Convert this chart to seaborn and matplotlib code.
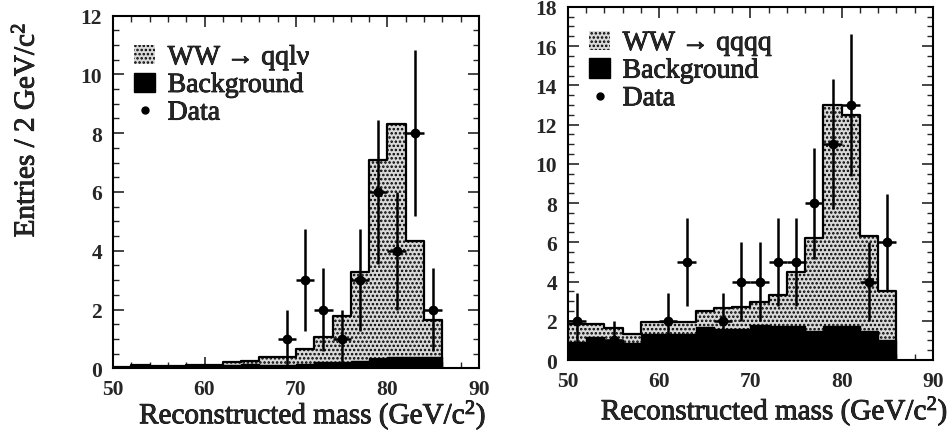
import numpy as np
import pandas as pd
import matplotlib
matplotlib.use("Agg")
import matplotlib.pyplot as plt
import matplotlib.patheffects as pe
import seaborn as sns
from matplotlib.patches import Patch
from matplotlib.lines import Line2D
from matplotlib.ticker import MultipleLocator

# ---------------- data ----------------
bin_edges = list(range(50, 88, 2))          # 50 ... 86, 2 GeV bins
bin_centers = [e + 1 for e in bin_edges[:-1]]

# left panel: WW -> qqlnu
left_total = [0.03, 0.1, 0.08, 0.08, 0.1, 0.12, 0.2, 0.25, 0.4, 0.4,
              0.66, 1.08, 1.79, 3.27, 7.1, 8.3, 4.34, 1.65]
left_bg = [0.03, 0.08, 0.06, 0.06, 0.08, 0.1, 0.12, 0.15, 0.12, 0.12,
           0.15, 0.2, 0.22, 0.25, 0.35, 0.38, 0.38, 0.38]
left_data_x = [69, 71, 73, 75, 77, 79, 81, 83, 85]
left_data_y = [1, 3, 2, 1, 3, 6, 4, 8, 2]

# right panel: WW -> qqqq
right_total = [1.85, 1.84, 1.62, 1.33, 1.92, 1.92, 1.92, 2.52, 2.64, 2.69,
               2.94, 3.32, 4.5, 6.2, 13.0, 12.5, 6.34, 3.54]
right_bg = [0.9, 1.15, 1.0, 0.85, 1.33, 1.35, 1.35, 1.7, 1.6, 1.6,
            1.8, 1.75, 1.72, 1.46, 1.72, 1.72, 1.5, 1.02]
right_data_x = [51, 55, 61, 63, 67, 69, 71, 73, 75, 77, 79, 81, 83, 85]
right_data_y = [2, 1, 2, 5, 2, 4, 4, 5, 5, 8, 11, 13, 4, 6]

left_legend = ["WW \u2192 qql\u03bd", "Background", "Data"]
right_legend = ["WW \u2192 qqqq", "Background", "Data"]
xlabel = "Reconstructed mass (GeV/c$^2$)"
ylabel = "Entries / 2 GeV/c$^2$"

# ---------------- style ----------------
sns.set_theme(style="ticks")
plt.rcParams["font.family"] = ["Liberation Serif", "DejaVu Serif"]
plt.rcParams["mathtext.default"] = "regular"
plt.rcParams["hatch.linewidth"] = 1.2

fig = plt.figure(figsize=(9.53, 4.35), dpi=100)
axL = fig.add_axes([0.1186, 0.151, 0.384, 0.811])
axR = fig.add_axes([0.596, 0.170, 0.383, 0.812])

STIP = "#d9d9d9"
HEAVY = [pe.withStroke(linewidth=0.6, foreground="black")]


def panel(ax, total, bg, dx, dy, ymax, labels, xlab_x, xlab_y, leg_y):
    df = pd.DataFrame({"m": bin_centers, "total": total, "bg": bg})
    sns.histplot(data=df, x="m", weights="total", bins=bin_edges,
                 element="step", fill=True, color=STIP, alpha=1,
                 edgecolor="black", linewidth=1.6, ax=ax)
    ax.collections[-1].set_hatch("....")
    sns.histplot(data=df, x="m", weights="bg", bins=bin_edges,
                 element="step", fill=True, color="black", alpha=1,
                 edgecolor="black", linewidth=1.0, ax=ax)
    dy = np.array(dy, dtype=float)
    ax.errorbar(dx, dy, yerr=np.sqrt(dy), xerr=1.0, fmt="o", color="black",
                ms=6, elinewidth=1.8, capsize=0, zorder=5)
    ax.set_xlim(50, 90)
    ax.set_ylim(0, ymax)
    ax.xaxis.set_major_locator(MultipleLocator(10))
    ax.xaxis.set_minor_locator(MultipleLocator(2))
    ax.yaxis.set_major_locator(MultipleLocator(2))
    ax.yaxis.set_minor_locator(MultipleLocator(0.5))
    ax.tick_params(which="both", direction="in", top=True, right=True,
                   labelsize=15.5, pad=8)
    ax.tick_params(which="major", length=8, width=1.2)
    ax.tick_params(which="minor", length=4, width=1.0)
    for lab in ax.get_xticklabels() + ax.get_yticklabels():
        lab.set_fontweight("bold")
    for s in ax.spines.values():
        s.set_linewidth(1.5)
        s.set_color("black")
    ax.set_xlabel(xlabel, fontsize=21, path_effects=HEAVY)
    ax.xaxis.set_label_coords(xlab_x, xlab_y, transform=ax.transAxes)
    ax.xaxis.label.set_va("top")
    ax.set_ylabel("")
    ax.grid(False)
    handles = [Patch(facecolor=STIP, edgecolor="black", hatch="....", linewidth=0),
               Patch(facecolor="black", edgecolor="black"),
               Line2D([], [], marker="o", ls="none", color="black", ms=5)]
    leg = ax.legend(handles, labels, loc="upper left", frameon=False, fontsize=20,
                    handlelength=0.75, handleheight=0.7, handletextpad=0.45,
                    labelspacing=0.08, borderaxespad=0.3, bbox_to_anchor=(0.005, leg_y))
    for t in leg.get_texts():
        t.set_path_effects(HEAVY)


panel(axL, left_total, left_bg, left_data_x, left_data_y, 12, left_legend,
      0.545, -0.085, 0.972)
panel(axR, right_total, right_bg, right_data_x, right_data_y, 18, right_legend,
      0.565, -0.097, 0.988)
axL.set_ylabel(ylabel, fontsize=21, path_effects=HEAVY)
axL.yaxis.set_label_coords(-0.2, 0.675, transform=axL.transAxes)

fig.savefig("out.png", dpi=100, facecolor="white")
